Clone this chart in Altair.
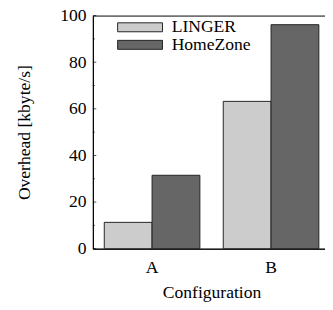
import altair as alt
import pandas as pd

configs = ["A", "B"]
series = ["LINGER", "HomeZone"]
linger = [11.3, 63.2]
homezone = [31.5, 96.1]
major_ticks = [0, 20, 40, 60, 80, 100]
minor_ticks = [10, 30, 50, 70, 90]
colors = ["#cccccc", "#666666"]

rows = []
for i, c in enumerate(configs):
    rows.append({"config": c, "series": series[0], "value": linger[i]})
    rows.append({"config": c, "series": series[1], "value": homezone[i]})
df = pd.DataFrame(rows)

FONT = "Liberation Serif"

yscale = alt.Scale(domain=[0, 100], nice=False)

bars = alt.Chart(df).mark_bar(stroke="#222222", strokeWidth=1).encode(
    x=alt.X("config:N", scale=alt.Scale(range=[0, 243.4], paddingInner=0.1967, paddingOuter=0.096),
            axis=alt.Axis(title="Configuration", labelAngle=0, ticks=False, tickSize=0,
                          labelPadding=10, titlePadding=8, titleX=121.7)),
    xOffset=alt.XOffset("series:N", sort=series, scale=alt.Scale(paddingInner=0, paddingOuter=0)),
    y=alt.Y("value:Q", scale=yscale, stack=None,
            axis=alt.Axis(title="Overhead [kbyte/s]", values=major_ticks, ticks=False, tickSize=0,
                          labelPadding=7, titlePadding=27, grid=False)),
    color=alt.Color("series:N", sort=series,
                    scale=alt.Scale(domain=series, range=colors),
                    legend=alt.Legend(title=None, orient="none", legendX=39.4, legendY=3,
                                      symbolType="M-5,-1H5V1H-5Z", symbolSize=84.6,
                                      symbolStrokeColor="#222222", symbolStrokeWidth=1,
                                      symbolOpacity=1,
                                      labelOffset=23.4, labelFont=FONT, labelFontSize=18,
                                      labelColor="#000000", padding=0, rowPadding=0)),
)

major = alt.Chart(pd.DataFrame({"v": major_ticks})).mark_tick(color="#000000", size=3.5, thickness=1).encode(
    y=alt.Y("v:Q", scale=yscale), x=alt.value(1.75))
minor = alt.Chart(pd.DataFrame({"v": minor_ticks})).mark_tick(color="#000000", size=2, thickness=1).encode(
    y=alt.Y("v:Q", scale=yscale), x=alt.value(1.0))

chart = alt.layer(bars, major, minor).properties(
    width=238, height=239,
    autosize=alt.AutoSizeParams(type="none"),
    padding={"left": 87, "top": 4, "right": 0, "bottom": 56},
    background="#ffffff",
).configure_view(stroke="#000000", strokeWidth=1).configure_axis(
    labelFont=FONT, titleFont=FONT, labelFontSize=18, titleFontSize=18,
    labelColor="#000000", titleColor="#000000", titleFontWeight="normal",
    domainColor="#000000", domainWidth=1,
).configure_legend(labelFont=FONT, labelFontSize=18, labelColor="#000000")

chart.save("out.html", embed_options={"renderer": "svg", "actions": False})
